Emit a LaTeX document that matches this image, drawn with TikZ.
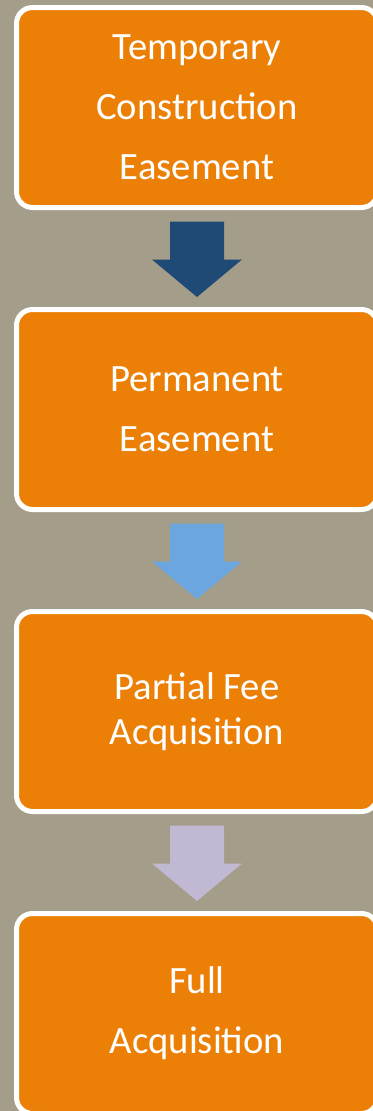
\documentclass[tikz,border=0pt]{standalone}
\usepackage{fontspec}
\setmainfont{Carlito}
\usetikzlibrary{positioning,calc}
\definecolor{bgtan}{HTML}{A49D89}
\definecolor{boxorange}{HTML}{EC8006}
\definecolor{darkarrow}{HTML}{1F4A76}
\definecolor{midarrow}{HTML}{6CA6DE}
\definecolor{lightarrow}{HTML}{C1B8D3}

\begin{document}
\begin{tikzpicture}[x=.75pt, y=-.75pt,
    stage/.style={draw=white, line width=3.75pt, fill=boxorange, rounded corners=12pt,
      minimum width=270.75pt, minimum height=150pt, inner sep=0pt,
      text=white, align=center, font=\fontsize{29}{45}\selectfont},
    node distance=72.75pt]
\useasboundingbox (0,0) rectangle (373,1111);
\fill[bgtan] (0,0) rectangle (373,1111);
\clip (0,0) rectangle (373,1111);
\node[stage] (temp) at (197,107.5) {Temporary\\Construction\\Easement};
\node[stage, below=of temp] (perm) {Permanent\\Easement};
\node[stage, below=of perm, font=\fontsize{29}{34}\selectfont] (part) {Partial Fee\\Acquisition};
\node[stage, below=of part] (full) {Full\\Acquisition};
\foreach \a/\b/\c in {temp/perm/darkarrow, perm/part/midarrow, part/full/lightarrow}
    \fill[\c] ($(\a.south)!.5!(\b.north)$) ++(-27,-37) -- ++(54,0) -- ++(0,38) -- ++(18,0)
        -- ++(-45,37.5) -- ++(-45,-37.5) -- ++(18,0) -- cycle;
\end{tikzpicture}
\end{document}
